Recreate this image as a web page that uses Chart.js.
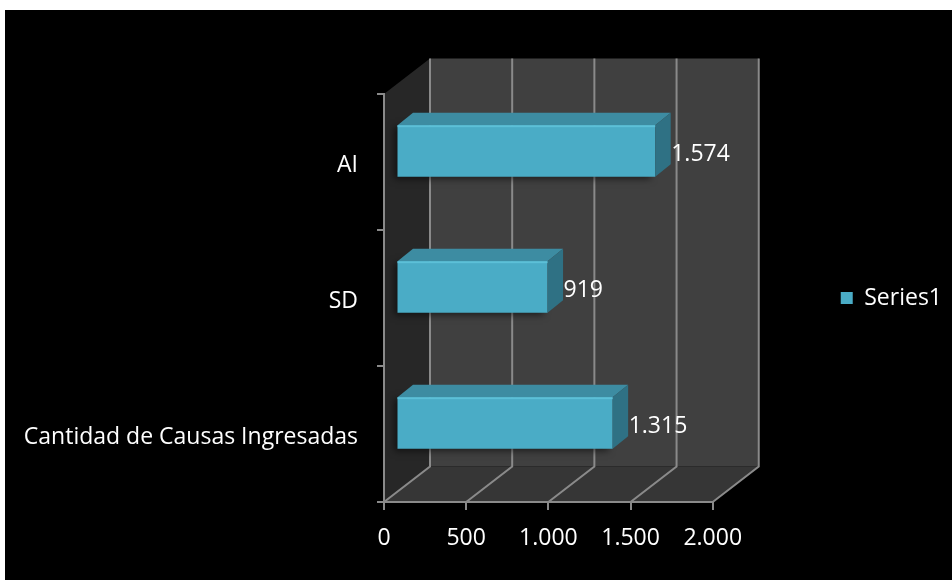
<!DOCTYPE html>
<html>
<head>
<meta charset="utf-8">
<script src="https://cdn.jsdelivr.net/npm/chart.js@4/dist/chart.umd.min.js"></script>
<style>
  html, body { margin: 0; padding: 0; background: #ffffff; }
  #wrap { position: absolute; left: 5px; top: 10px; width: 947px; height: 570px; background: #000000; }
</style>
</head>
<body>
<div id="wrap"><canvas id="chart" width="947" height="570"></canvas></div>
<script>
// Categories are listed bottom-up, as the axis is reversed
const categories = ['Cantidad de Causas Ingresadas', 'SD', 'AI'];
const seriesName = 'Series1';
const seriesValues = [1315, 919, 1574];
const axisTicks = [0, 500, 1000, 1500, 2000];

const fmt = v => String(v).replace(/\B(?=(\d{3})+(?!\d))/g, '.');

const FONT = { family: 'Open Sans', size: 23 };
const GRID = '#8a8a8a';
const DEPTH = { x: 46, y: -35.5 };      // offset from front plane to back wall
const BAR_FRONT = { x: 12.5, y: -11 };  // how far back the bar front faces sit
const BAR_DEPTH = { x: 15.5, y: -12.5 };// depth of each bar box

function poly(ctx, pts, fill) {
  ctx.beginPath();
  ctx.moveTo(pts[0][0], pts[0][1]);
  for (let i = 1; i < pts.length; i++) ctx.lineTo(pts[i][0], pts[i][1]);
  ctx.closePath();
  ctx.fillStyle = fill;
  ctx.fill();
}

const box3d = {
  id: 'box3d',
  beforeDraw(chart) {
    const { ctx, chartArea: a, scales: { x } } = chart;
    const L = a.left, R = a.right, T = a.top, B = a.bottom, dx = DEPTH.x, dy = DEPTH.y;
    ctx.save();
    // side wall, back wall, floor
    poly(ctx, [[L, T], [L + dx, T + dy], [L + dx, B + dy], [L, B]], '#272727');
    poly(ctx, [[L + dx, T + dy], [R + dx, T + dy], [R + dx, B + dy], [L + dx, B + dy]], '#404040');
    poly(ctx, [[L, B], [R, B], [R + dx, B + dy], [L + dx, B + dy]], '#363636');
    // value gridlines on the back wall and across the floor
    ctx.strokeStyle = GRID;
    ctx.lineWidth = 2;
    axisTicks.forEach(v => {
      const px = x.getPixelForValue(v);
      ctx.beginPath();
      ctx.moveTo(px + dx, T + dy);
      ctx.lineTo(px + dx, B + dy);
      ctx.lineTo(px, B);
      ctx.stroke();
    });
    ctx.restore();
  },
  beforeDatasetsDraw(chart) {
    const ctx = chart.ctx;
    ctx.save();
    ctx.translate(BAR_FRONT.x, BAR_FRONT.y);
    ctx.shadowColor = 'rgba(0,0,0,0.55)';
    ctx.shadowBlur = 7;
    ctx.shadowOffsetX = -4;
    ctx.shadowOffsetY = 2;
  },
  afterDatasetsDraw(chart) {
    const ctx = chart.ctx;
    ctx.restore();
    ctx.save();
    const meta = chart.getDatasetMeta(0);
    const vals = chart.data.datasets[0].data;
    meta.data.forEach((el, i) => {
      const p = el.getProps(['x', 'y', 'base', 'height'], true);
      const x0 = p.base + BAR_FRONT.x, x1 = p.x + BAR_FRONT.x;
      const yt = p.y - p.height / 2 + BAR_FRONT.y, yb = p.y + p.height / 2 + BAR_FRONT.y;
      const bx = BAR_DEPTH.x, by = BAR_DEPTH.y;
      // top face
      poly(ctx, [[x0, yt], [x1, yt], [x1 + bx, yt + by], [x0 + bx, yt + by]], '#3d8ca2');
      // end face
      poly(ctx, [[x1, yt], [x1 + bx, yt + by], [x1 + bx, yb + by], [x1, yb]], '#2f7184');
      // light rim along the front top edge
      ctx.fillStyle = '#5cc0d8';
      ctx.fillRect(x0, yt, x1 - x0, 2);
      // value label
      ctx.fillStyle = '#ffffff';
      ctx.font = FONT.size + 'px "' + FONT.family + '"';
      ctx.textAlign = 'left';
      ctx.textBaseline = 'middle';
      ctx.fillText(fmt(vals[i]), x1 + 16, (yt + yb) / 2 + 3);
    });
    ctx.restore();
  }
};

new Chart(document.getElementById('chart'), {
  type: 'bar',
  data: {
    labels: categories,
    datasets: [{
      label: seriesName,
      data: seriesValues,
      backgroundColor: '#4aacc6',
      borderWidth: 0,
      barPercentage: 0.38,
      categoryPercentage: 1,
      clip: false
    }]
  },
  plugins: [box3d],
  options: {
    indexAxis: 'y',
    responsive: false,
    animation: false,
    devicePixelRatio: 1,
    layout: { padding: { top: 84, right: 0, bottom: 0, left: 0 } },
    plugins: {
      tooltip: { enabled: false },
      legend: {
        position: 'right',
        fullSize: false,
        maxWidth: 240,
        labels: {
          color: '#ffffff',
          font: FONT,
          boxWidth: 12,
          boxHeight: 12,
          padding: 128
        }
      }
    },
    scales: {
      x: {
        min: 0,
        max: 2000,
        afterBuildTicks: s => { s.ticks = axisTicks.map(v => ({ value: v })); },
        afterFit: s => { s.height = 78; },
        ticks: { color: '#ffffff', font: FONT, padding: 15, maxRotation: 0, autoSkip: false, callback: v => fmt(v) },
        grid: { drawOnChartArea: false, color: GRID, lineWidth: 2, tickLength: 8 },
        border: { color: GRID, width: 2 }
      },
      y: {
        reverse: true,
        afterFit: s => { s.width = 379; },
        ticks: { color: '#ffffff', font: FONT, padding: 19, labelOffset: 3 },
        grid: { drawOnChartArea: false, color: GRID, lineWidth: 2, tickLength: 7, offset: true },
        border: { color: GRID, width: 2 }
      }
    }
  }
});
</script>
</body>
</html>
